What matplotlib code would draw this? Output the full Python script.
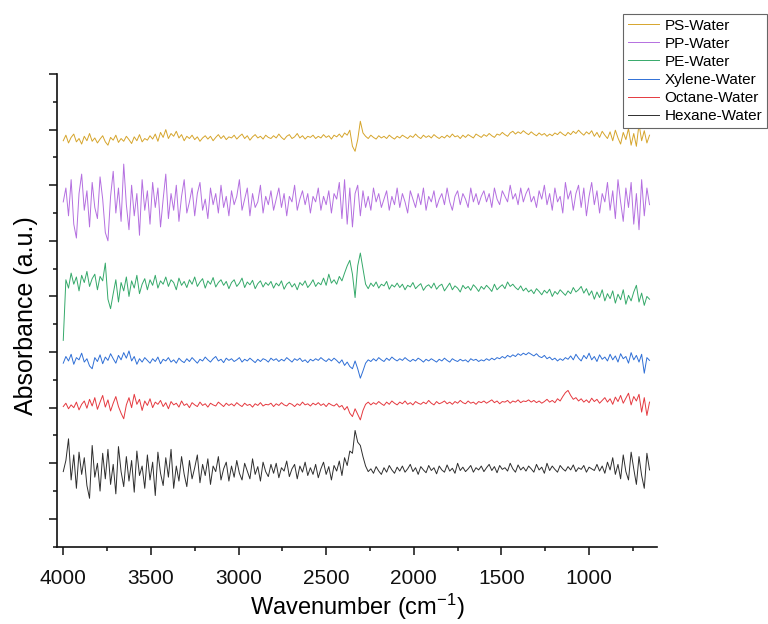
import numpy as np
import matplotlib
matplotlib.use("Agg")
import matplotlib.pyplot as plt
from matplotlib.ticker import MultipleLocator, NullFormatter

plt.rcParams['font.family'] = ['Liberation Sans', 'DejaVu Sans']
plt.rcParams['mathtext.default'] = 'regular'

# FTIR spectra sampled every 15 cm-1 from 4000 down to 655 cm-1 (stacked, offset traces)
wavenumber = np.linspace(4000, 655, 224)

ps_water = [
    6.80, 6.90, 6.76, 6.86, 6.92, 6.78, 6.84, 6.74, 6.88, 6.80, 6.93, 6.79, 6.85, 6.76, 6.83, 6.89,
    6.78, 6.72, 6.86, 6.81, 6.90, 6.77, 6.84, 6.79, 6.88, 6.82, 6.75, 6.87, 6.80, 6.91, 6.78, 6.84,
    6.81, 6.89, 6.83, 6.92, 6.79, 6.95, 6.86, 7.00, 6.84, 6.93, 6.88, 6.97, 6.85, 6.91, 6.80, 6.88,
    6.84, 6.90, 6.82, 6.87, 6.79, 6.85, 6.89, 6.83, 6.88, 6.80, 6.86, 6.91, 6.84, 6.89, 6.82, 6.87,
    6.85, 6.90, 6.83, 6.88, 6.92, 6.84, 6.89, 6.81, 6.87, 6.91, 6.85, 6.88, 6.83, 6.90, 6.86, 6.84,
    6.89, 6.85, 6.92, 6.86, 6.82, 6.88, 6.91, 6.84, 6.87, 6.93, 6.85, 6.89, 6.83, 6.88, 6.86, 6.90,
    6.84, 6.88, 6.85, 6.91, 6.86, 6.89, 6.83, 6.90, 6.87, 6.92, 6.86, 6.94, 6.90, 6.99, 6.70, 6.61,
    6.82, 7.15, 6.94, 6.88, 6.84, 6.90, 6.86, 6.83, 6.89, 6.85, 6.88, 6.84, 6.90, 6.86, 6.83, 6.88,
    6.85, 6.90, 6.87, 6.84, 6.89, 6.86, 6.92, 6.87, 6.84, 6.90, 6.86, 6.89, 6.85, 6.91, 6.87, 6.84,
    6.88, 6.85, 6.90, 6.86, 6.92, 6.87, 6.89, 6.84, 6.90, 6.86, 6.91, 6.88, 6.85, 6.92, 6.89, 6.86,
    6.91, 6.88, 6.93, 6.89, 6.86, 6.92, 6.90, 6.95, 6.91, 6.88, 6.94, 6.97, 6.92, 6.96, 6.93, 6.98,
    6.94, 6.91, 6.96, 6.92, 6.89, 6.94, 6.90, 6.93, 6.88, 6.92, 6.89, 6.94, 6.91, 6.96, 6.92, 6.89,
    6.95, 6.91, 6.97, 6.93, 6.99, 6.94, 6.90, 6.96, 6.92, 6.98, 6.88, 6.95, 6.86, 6.97, 6.90, 6.84,
    6.96, 6.80, 6.99, 6.85, 6.74, 6.95, 6.82, 7.02, 6.72, 6.93, 6.70, 7.10, 6.80, 6.98, 6.76, 6.90,
]

pp_water = [
    5.70, 5.95, 5.45, 6.10, 5.30, 5.05, 5.85, 6.20, 5.55, 5.90, 5.25, 6.05, 5.60, 5.40, 6.15, 5.75,
    5.15, 5.00, 5.80, 6.25, 5.50, 5.95, 5.35, 6.38, 5.65, 5.20, 6.00, 5.45, 5.85, 5.10, 6.10, 5.55,
    5.90, 5.30, 6.05, 5.60, 5.95, 5.25, 5.75, 6.20, 5.40, 5.85, 5.55, 6.00, 5.35, 5.80, 6.10, 5.50,
    5.70, 5.95, 5.45, 5.85, 6.05, 5.55, 5.75, 5.40, 5.95, 5.65, 5.85, 5.50, 6.00, 5.60, 5.80, 5.45,
    5.90, 5.65, 5.80, 6.10, 5.55, 5.75, 5.95, 5.45, 5.85, 5.60, 5.70, 6.00, 5.50, 5.80, 5.65, 5.90,
    5.55, 5.75, 5.95, 5.60, 5.85, 5.45, 5.80, 5.70, 6.00, 5.55, 5.75, 5.90, 5.65, 5.85, 5.50, 5.80,
    5.70, 5.95, 5.55, 5.80, 5.65, 5.90, 5.50, 5.85, 5.75, 6.05, 5.40, 6.10, 5.30, 5.95, 5.25, 5.85,
    6.00, 5.45, 5.90, 5.60, 5.80, 5.55, 5.95, 5.70, 5.85, 5.60, 5.75, 5.90, 5.55, 5.80, 5.65, 5.95,
    5.60, 5.85, 5.70, 5.50, 5.90, 5.75, 5.60, 5.85, 5.65, 5.95, 5.55, 5.80, 5.70, 5.90, 5.60, 5.75,
    5.85, 5.65, 5.95, 5.70, 5.55, 5.80, 5.90, 5.65, 5.85, 5.75, 5.60, 5.95, 5.70, 5.85, 5.65, 5.80,
    5.90, 5.70, 5.85, 5.60, 5.95, 5.75, 5.65, 5.90, 5.80, 5.70, 6.00, 5.75, 5.85, 5.65, 5.95, 5.70,
    5.85, 5.95, 5.70, 5.80, 5.60, 5.90, 5.75, 6.00, 5.65, 5.85, 5.55, 5.95, 5.70, 5.80, 5.50, 6.05,
    5.75, 5.90, 5.55, 5.85, 6.00, 5.60, 5.95, 5.45, 5.80, 6.05, 5.65, 5.90, 5.50, 5.85, 5.70, 6.05,
    5.55, 5.90, 5.40, 6.10, 5.70, 5.35, 5.95, 5.60, 6.05, 5.30, 5.85, 5.20, 6.10, 5.45, 5.95, 5.65,
]

pe_water = [
    3.21, 4.30, 4.15, 4.42, 4.22, 4.35, 4.10, 4.38, 4.25, 4.45, 4.18, 4.32, 4.40, 4.12, 4.36, 4.28,
    4.60, 3.95, 3.78, 4.05, 4.30, 3.90, 4.25, 4.10, 4.35, 4.00, 4.28, 4.15, 4.38, 4.05, 4.22, 4.32,
    4.12, 4.30, 4.20, 4.38, 4.15, 4.28, 4.22, 4.35, 4.18, 4.30, 4.25, 4.12, 4.33, 4.20, 4.27, 4.16,
    4.30, 4.22, 4.35, 4.18, 4.26, 4.32, 4.15, 4.28, 4.22, 4.34, 4.17, 4.25, 4.30, 4.20, 4.27, 4.14,
    4.25, 4.30, 4.18, 4.24, 4.33, 4.16, 4.26, 4.21, 4.29, 4.14, 4.23, 4.28, 4.17, 4.25, 4.20, 4.27,
    4.15, 4.24, 4.19, 4.28, 4.13, 4.22, 4.26, 4.17, 4.23, 4.12, 4.25, 4.20, 4.28, 4.16, 4.22, 4.30,
    4.18, 4.25, 4.21, 4.33, 4.20, 4.40, 4.24, 4.30, 4.22, 4.36, 4.28, 4.42, 4.55, 4.65, 4.40, 3.98,
    4.55, 4.78, 4.50, 4.22, 4.14, 4.24, 4.18, 4.26, 4.15, 4.22, 4.19, 4.27, 4.13, 4.21, 4.17, 4.24,
    4.16, 4.22, 4.12, 4.20, 4.17, 4.25, 4.14, 4.19, 4.23, 4.11, 4.18, 4.21, 4.15, 4.24, 4.13, 4.19,
    4.22, 4.10, 4.17, 4.24, 4.12, 4.19, 4.15, 4.08, 4.20, 4.14, 4.18, 4.11, 4.21, 4.16, 4.09, 4.18,
    4.13, 4.20, 4.15, 4.09, 4.22, 4.12, 4.17, 4.21, 4.14, 4.26, 4.18, 4.22, 4.16, 4.12, 4.19, 4.10,
    4.15, 4.08, 4.12, 4.05, 4.14, 4.09, 4.03, 4.11, 4.06, 4.13, 4.00, 4.09, 4.04, 4.12, 4.07, 4.02,
    4.10, 4.05, 4.16, 4.08, 4.12, 4.18, 4.06, 4.14, 4.02, 4.10, 3.95, 4.08, 3.98, 4.12, 3.92, 4.05,
    3.96, 4.10, 3.88, 4.04, 3.94, 4.12, 3.86, 4.02, 3.92, 4.08, 4.20, 3.90, 4.06, 3.84, 4.00, 3.95,
]

xylene_water = [
    2.80, 2.92, 2.84, 2.96, 2.78, 2.90, 2.86, 2.98, 2.82, 2.88, 2.75, 2.70, 2.90, 2.83, 2.95, 2.79,
    2.91, 2.85, 2.97, 2.88, 2.80, 2.94, 2.86, 2.99, 2.89, 3.02, 2.84, 2.92, 2.78, 2.88, 2.82, 2.90,
    2.85, 2.80, 2.88, 2.83, 2.91, 2.79, 2.87, 2.84, 2.90, 2.82, 2.86, 2.80, 2.89, 2.84, 2.81, 2.88,
    2.83, 2.90, 2.85, 2.80, 2.87, 2.84, 2.91, 2.86, 2.82, 2.88, 2.92, 2.84, 2.87, 2.81, 2.89, 2.85,
    2.88, 2.83, 2.86, 2.90, 2.82, 2.87, 2.84, 2.89, 2.85, 2.81, 2.87, 2.83, 2.88, 2.86, 2.82, 2.89,
    2.85, 2.88, 2.83, 2.87, 2.84, 2.90, 2.86, 2.82, 2.88, 2.85, 2.89, 2.83, 2.86, 2.81, 2.87, 2.84,
    2.88, 2.85, 2.90, 2.86, 2.83, 2.88, 2.84, 2.89, 2.85, 2.80, 2.86, 2.76, 2.82, 2.74, 2.70, 2.84,
    2.70, 2.53, 2.66, 2.80, 2.86, 2.83, 2.88, 2.84, 2.90, 2.86, 2.83, 2.89, 2.85, 2.91, 2.87, 2.84,
    2.88, 2.85, 2.90, 2.86, 2.83, 2.87, 2.84, 2.89, 2.86, 2.82, 2.87, 2.84, 2.88, 2.85, 2.82, 2.87,
    2.84, 2.89, 2.85, 2.82, 2.88, 2.85, 2.83, 2.87, 2.84, 2.86, 2.82, 2.88, 2.85, 2.87, 2.83, 2.86,
    2.84, 2.88, 2.85, 2.89, 2.86, 2.90, 2.88, 2.92, 2.89, 2.94, 2.91, 2.95, 2.92, 2.97, 2.94, 2.98,
    2.95, 2.99, 2.96, 2.93, 2.97, 2.92, 2.90, 2.94, 2.88, 2.91, 2.86, 2.89, 2.84, 2.88, 2.85, 2.90,
    2.87, 2.93, 2.86, 2.96, 2.89, 2.84, 2.94, 2.88, 2.98, 2.86, 2.92, 2.83, 2.95, 2.87, 2.91, 2.84,
    2.96, 2.86, 2.93, 2.82, 2.97, 2.88, 2.92, 2.80, 2.99, 2.86, 2.94, 2.82, 2.96, 2.62, 2.90, 2.85,
]

octane_water = [
    2.02, 2.08, 1.98, 2.05, 2.00, 2.10, 1.96, 2.06, 2.12, 1.99, 2.15, 2.03, 2.18, 1.97, 2.10, 2.22,
    2.01, 2.14, 1.94, 2.08, 2.20, 2.02, 1.90, 1.80, 2.05, 2.18, 2.00, 2.24, 2.06, 2.15, 1.95, 2.12,
    2.04, 2.16, 2.00, 2.10, 2.06, 2.13, 2.02, 2.09, 1.98, 2.11, 2.05, 2.08, 2.01, 2.12, 2.04, 2.07,
    2.00, 2.09, 2.05, 2.02, 2.10, 2.04, 2.07, 2.01, 2.08, 2.05, 2.03, 2.10, 2.06, 2.02, 2.08, 2.04,
    2.07, 2.03, 2.09, 2.05, 2.02, 2.08, 2.04, 2.06, 2.01, 2.07, 2.04, 2.09, 2.03, 2.06, 2.05, 2.08,
    2.02, 2.07, 2.04, 2.09, 2.05, 2.03, 2.08, 2.06, 2.02, 2.07, 2.04, 2.10, 2.05, 2.07, 2.03, 2.08,
    2.05, 2.09, 2.04, 2.07, 2.02, 2.08, 2.05, 2.03, 2.07, 2.01, 2.04, 1.96, 2.02, 1.90, 1.84, 1.98,
    1.88, 1.78, 1.95, 2.06, 2.10, 2.05, 2.09, 2.06, 2.11, 2.07, 2.04, 2.10, 2.06, 2.12, 2.08, 2.05,
    2.10, 2.07, 2.12, 2.06, 2.09, 2.05, 2.11, 2.08, 2.06, 2.10, 2.07, 2.13, 2.08, 2.05, 2.11, 2.07,
    2.09, 2.12, 2.07, 2.10, 2.06, 2.11, 2.08, 2.13, 2.09, 2.07, 2.12, 2.08, 2.10, 2.06, 2.11, 2.09,
    2.12, 2.08, 2.11, 2.14, 2.09, 2.12, 2.07, 2.11, 2.10, 2.13, 2.08, 2.12, 2.10, 2.14, 2.09, 2.12,
    2.11, 2.14, 2.10, 2.13, 2.09, 2.12, 2.08, 2.11, 2.15, 2.10, 2.13, 2.09, 2.16, 2.12, 2.20, 2.27,
    2.31, 2.22, 2.15, 2.18, 2.12, 2.16, 2.10, 2.14, 2.09, 2.17, 2.11, 2.15, 2.08, 2.13, 2.18, 2.10,
    2.16, 2.06, 2.19, 2.11, 2.22, 2.08, 2.17, 2.26, 2.05, 2.20, 2.12, 2.24, 1.92, 2.18, 1.86, 2.10,
]

hexane_water = [
    0.85, 1.05, 1.44, 0.70, 1.15, 0.55, 1.20, 0.80, 1.10, 0.60, 0.37, 1.32, 0.75, 1.00, 0.50, 1.18,
    0.72, 1.25, 0.62, 0.98, 0.45, 1.30, 0.85, 0.58, 1.12, 0.68, 1.05, 0.48, 1.22, 0.78, 0.95, 0.55,
    1.15, 0.70, 1.02, 0.42, 1.20, 0.82, 0.60, 1.10, 0.75, 1.25, 0.55, 0.95, 0.68, 1.12, 0.80, 0.58,
    1.05, 0.72, 0.92, 1.15, 0.65, 0.98, 0.78, 1.08, 0.62, 0.95, 0.85, 1.12, 0.70, 0.90, 1.02, 0.68,
    0.95, 0.75, 1.05, 0.82, 0.70, 1.00, 0.86, 0.72, 1.08, 0.80, 0.94, 0.68, 1.02, 0.85, 0.76, 0.98,
    0.82, 1.00, 0.74, 0.92, 0.86, 1.04, 0.76, 0.90, 0.98, 0.72, 0.95, 0.84, 1.02, 0.78, 0.92, 0.80,
    0.98, 0.74, 0.90, 1.02, 0.80, 0.94, 0.70, 0.96, 0.86, 1.04, 0.78, 1.10, 0.96, 1.22, 1.18, 1.59,
    1.38, 1.32, 1.12, 0.95, 0.85, 0.90, 0.82, 0.94, 0.86, 0.80, 0.92, 0.84, 0.96, 0.88, 0.82, 0.93,
    0.86, 0.95, 0.84, 0.90, 0.98, 0.85, 0.92, 0.80, 0.94, 0.88, 0.83, 0.96, 0.87, 0.92, 0.81, 0.95,
    0.88, 0.84, 0.97, 0.86, 0.91, 0.82, 1.00, 0.87, 0.93, 0.85, 0.90, 0.96, 0.84, 0.92, 0.88, 0.95,
    0.85, 0.92, 0.98, 0.87, 0.94, 0.83, 0.96, 0.89, 0.92, 0.86, 1.00, 0.90, 0.84, 0.97, 0.88, 0.93,
    0.86, 0.95, 0.90, 0.84, 0.98, 0.88, 0.93, 0.82, 1.00, 0.87, 0.95, 0.89, 0.84, 0.96, 0.90, 0.86,
    0.94, 0.88, 0.97, 0.85, 0.92, 0.89, 0.96, 0.84, 0.93, 0.90, 0.87, 0.98, 0.86, 0.95, 0.82, 1.02,
    0.88, 1.10, 0.80, 0.98, 0.72, 1.15, 0.85, 0.70, 1.20, 0.90, 0.62, 1.12, 0.78, 0.55, 1.18, 0.88,
]

series = [ps_water, pp_water, pe_water, xylene_water, octane_water, hexane_water]
labels = ["PS-Water", "PP-Water", "PE-Water", "Xylene-Water", "Octane-Water", "Hexane-Water"]
colors = ["#D6A52C", "#B46FE0", "#35A96A", "#2F6FD6", "#E5393F", "#2E2E2E"]

fig = plt.figure(figsize=(7.68, 6.24), dpi=100)
ax = fig.add_axes([0.0746, 0.1239, 0.7805, 0.7575])

for vals, lab, col in zip(series, labels, colors):
    ax.plot(wavenumber, vals, color=col, lw=0.7, label=lab)

ax.set_xlim(4034, 614)
ax.set_ylim(-0.5, 8.0)

ax.spines['top'].set_visible(False)
ax.spines['right'].set_visible(False)
for side in ('left', 'bottom'):
    ax.spines[side].set_linewidth(1.2)
    ax.spines[side].set_color('#111111')

ax.xaxis.set_major_locator(MultipleLocator(500))
ax.xaxis.set_minor_locator(MultipleLocator(250))
ax.yaxis.set_major_locator(MultipleLocator(1))
ax.yaxis.set_minor_locator(MultipleLocator(0.5))
ax.yaxis.set_major_formatter(NullFormatter())
ax.tick_params(which='major', direction='out', length=6, width=1.1, colors='#111111')
ax.tick_params(which='minor', direction='out', length=3, width=1.1, colors='#111111')
ax.tick_params(axis='x', labelsize=15, pad=10)

ax.set_xlabel("Wavenumber (cm$^{-1}$)", fontsize=17, labelpad=3)
ax.set_ylabel("Absorbance (a.u.)", fontsize=18)
ax.yaxis.set_label_coords(-0.033, 0.489)

leg = fig.legend(loc='upper right', bbox_to_anchor=(767 / 768, 1 - 14 / 624),
                 bbox_transform=fig.transFigure, borderaxespad=0, fancybox=False,
                 edgecolor='#666666', framealpha=1, fontsize=11, handlelength=2.0,
                 handletextpad=0.4, labelspacing=0.27, borderpad=0.3)
leg.get_frame().set_linewidth(0.8)

fig.savefig("out.png", dpi=100)
